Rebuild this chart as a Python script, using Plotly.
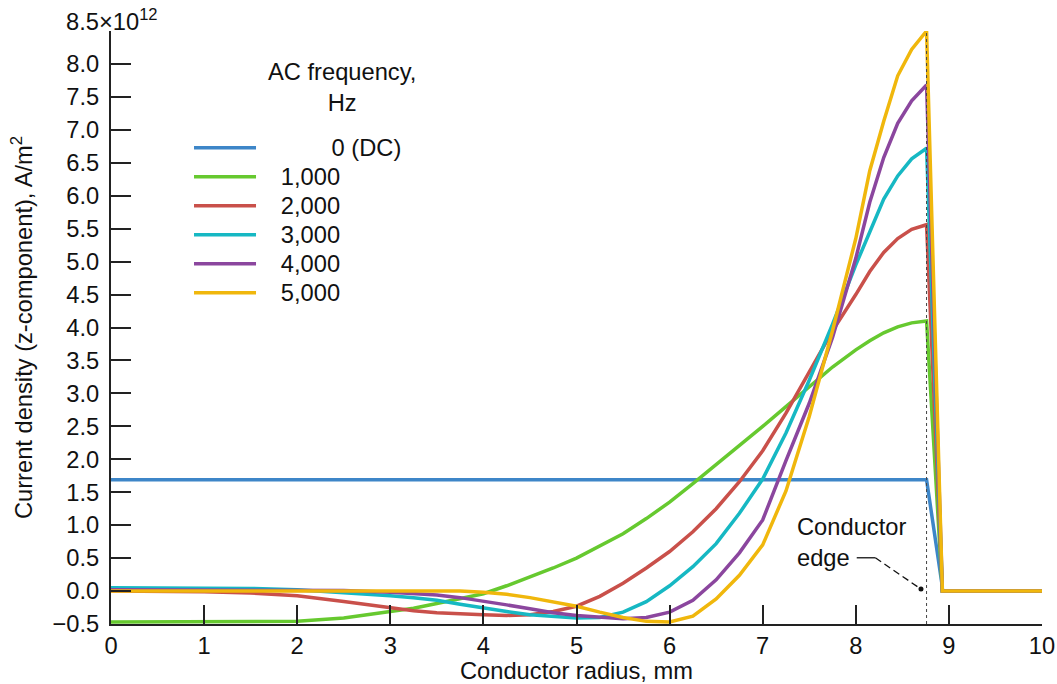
import plotly.graph_objects as go

# ---------------- data (current density, x10^12 A/m^2) ----------------
radius_mm = [0, 0.5, 1, 1.5, 2, 2.5, 3, 3.25, 3.5, 3.75, 4, 4.25, 4.5, 4.75, 5,
             5.25, 5.5, 5.75, 6, 6.25, 6.5, 6.75, 7, 7.25, 7.5, 7.75, 8,
             8.15, 8.3, 8.45, 8.6, 8.76, 8.93, 10]

j_dc = [1.69] * 32 + [0.06, None]

j_1000 = [-0.47, -0.47, -0.47, -0.47, -0.46, -0.41, -0.31, -0.26, -0.19, -0.12, -0.04,
          0.08, 0.21, 0.35, 0.5, 0.68, 0.87, 1.1, 1.35, 1.63, 1.92, 2.2, 2.5, 2.8, 3.1,
          3.4, 3.66, 3.8, 3.92, 4.01, 4.07, 4.1, 0.0, 0.0]

j_2000 = [0.0, 0.0, -0.01, -0.03, -0.07, -0.16, -0.26, -0.3, -0.33, -0.35, -0.36,
          -0.37, -0.36, -0.31, -0.23, -0.08, 0.12, 0.35, 0.6, 0.9, 1.25, 1.66, 2.13,
          2.7, 3.33, 3.95, 4.5, 4.85, 5.14, 5.35, 5.49, 5.56, 0.0, 0.0]

j_3000 = [0.05, 0.05, 0.05, 0.04, 0.02, -0.02, -0.07, -0.1, -0.14, -0.2, -0.26,
          -0.31, -0.36, -0.39, -0.41, -0.4, -0.32, -0.16, 0.08, 0.37, 0.72, 1.18, 1.7,
          2.4, 3.2, 4.05, 4.95, 5.45, 5.95, 6.3, 6.56, 6.72, 0.0, 0.0]

j_4000 = [0.02, 0.02, 0.02, 0.02, 0.02, 0.01, -0.02, -0.04, -0.06, -0.1, -0.15,
          -0.21, -0.27, -0.33, -0.37, -0.4, -0.42, -0.4, -0.32, -0.14, 0.17, 0.58, 1.08,
          1.98, 2.85, 3.85, 5.05, 5.9, 6.58, 7.1, 7.44, 7.68, 0.0, 0.0]

j_5000 = [0.0, 0.0, 0.0, 0.0, 0.0, 0.01, 0.01, 0.01, 0.01, 0.0, -0.02,
          -0.05, -0.1, -0.16, -0.23, -0.32, -0.4, -0.46, -0.47, -0.38, -0.12, 0.24, 0.7,
          1.52, 2.65, 3.95, 5.35, 6.38, 7.13, 7.82, 8.22, 8.5, 0.0, 0.0]

series_names = ["0 (DC)", "1,000", "2,000", "3,000", "4,000", "5,000"]
series_values = [j_dc, j_1000, j_2000, j_3000, j_4000, j_5000]

conductor_edge_mm = 8.76

x_ticks = [0, 1, 2, 3, 4, 5, 6, 7, 8, 9, 10]
y_ticks = [-0.5, 0.0, 0.5, 1.0, 1.5, 2.0, 2.5, 3.0, 3.5, 4.0, 4.5, 5.0, 5.5, 6.0,
           6.5, 7.0, 7.5, 8.0, 8.5]
y_tick_labels = ["\u22120.5", "0.0", "0.5", "1.0", "1.5", "2.0", "2.5", "3.0", "3.5",
                 "4.0", "4.5", "5.0", "5.5", "6.0", "6.5", "7.0", "7.5", "8.0", ""]

# ---------------- styling ----------------
colors = ["#3d86c8", "#66c92f", "#c9504a", "#16b8c3", "#8b469e", "#f0b70c"]
FONT = "Liberation Sans, Arial, Helvetica, sans-serif"
FS = 23.7
FIG = "\u2007"
PUNC = "\u2008"
THIN = "\u2009"

fig = go.Figure()
for name, vals, col in zip(series_names, series_values, colors):
    pad = FIG + PUNC
    if name.startswith("0"):
        label = pad + FIG * 3 + PUNC + THIN + name
    else:
        label = pad + name
    label = '<span style="font-size:%spx">%s</span>' % (FS, label)
    fig.add_trace(go.Scatter(x=radius_mm, y=vals, mode="lines", name=label,
                             line=dict(color=col, width=3.5), connectgaps=False))

# conductor edge dotted line
fig.add_shape(type="line", x0=conductor_edge_mm, x1=conductor_edge_mm, y0=0, y1=1,
              xref="x", yref="paper", line=dict(color="#444", width=1, dash="dot"))

# leader for the annotation
fig.add_shape(type="line", x0=8.01, x1=8.21, y0=0.505, y1=0.505,
              line=dict(color="#111", width=1.3))
fig.add_shape(type="line", x0=8.21, x1=8.70, y0=0.505, y1=0.03,
              line=dict(color="#111", width=1.3, dash="7px,4px"))
fig.add_shape(type="circle", xsizemode="pixel", ysizemode="pixel",
              xanchor=8.70, yanchor=0.03, x0=-2.5, x1=2.5, y0=-2.5, y1=2.5,
              fillcolor="#111", line=dict(width=0))

fig.add_annotation(x=7.35, y=0.74, text="Conductor<br>edge", showarrow=False,
                   xanchor="left", yanchor="middle", align="left",
                   font=dict(family=FONT, size=FS, color="#111"))

fig.add_annotation(xref="paper", yref="paper", x=0.0526, y=1.0186,
                   text="8.5\u00d710<sup>12</sup>", showarrow=False,
                   xanchor="right", yanchor="middle",
                   font=dict(family=FONT, size=FS, color="#111"))

# legend heading
fig.add_annotation(xref="paper", yref="paper", x=0.248, y=0.904,
                   text="AC frequency,<br>Hz", showarrow=False,
                   xanchor="center", yanchor="middle", align="center",
                   font=dict(family=FONT, size=FS, color="#111"))

fig.update_layout(
    width=1057, height=684,
    margin=dict(l=111, r=15, t=31, b=60),
    paper_bgcolor="white", plot_bgcolor="white",
    font=dict(family=FONT, size=FS, color="#111"),
    showlegend=True,
    legend=dict(x=0.0838, y=0.836, xanchor="left", yanchor="top",
                bgcolor="rgba(0,0,0,0)", itemwidth=62,
                font=dict(family=FONT, size=20), tracegroupgap=0),
    xaxis=dict(range=[0, 10], tickvals=x_ticks, ticks="inside", ticklen=19,
               tickwidth=1.5, tickcolor="#222", showline=True, linecolor="#222",
               linewidth=2, showgrid=False, zeroline=False, automargin=False,
               title=dict(text="Conductor radius, mm", standoff=4,
                          font=dict(family=FONT, size=FS))),
    yaxis=dict(range=[-0.5, 8.5], tickvals=y_ticks, ticktext=y_tick_labels,
               ticks="inside", ticklen=20, tickwidth=1.5, tickcolor="#222",
               showline=True, linecolor="#222", linewidth=2, showgrid=False,
               zeroline=False, automargin=False, ticklabelstandoff=5,
               title=dict(text="Current density (z-component), A/m<sup>2</sup>",
                          standoff=13, font=dict(family=FONT, size=FS))),
)

fig.write_html("out.html",
               config={"displayModeBar": False},
               post_script="document.body.style.margin='0px';"
                           "document.body.style.overflow='hidden';")
